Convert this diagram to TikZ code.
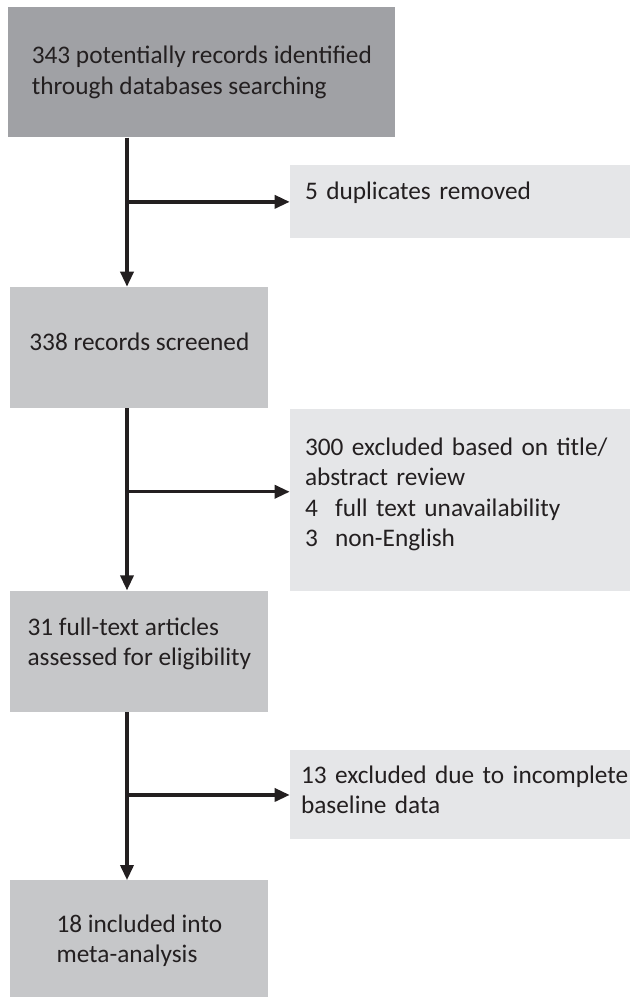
\documentclass[tikz,border=0pt]{standalone}
\usepackage{fontspec}
\setmainfont{Carlito}
\usepackage{tikz}
\usetikzlibrary{arrows.meta,positioning,calc}

\definecolor{boxdark}{RGB}{160,161,165}
\definecolor{boxmid}{RGB}{198,199,201}
\definecolor{boxlight}{RGB}{229,230,232}
\definecolor{inkdark}{RGB}{35,31,32}

% deep strut on a last line: lifts the text in its box
\newcommand{\lowstrut}[1]{\rule[-#1]{0pt}{#1}}

\begin{document}
\begin{tikzpicture}[
    %–––– GLOBAL STYLE TWEAKS ––––
    font=\fontsize{14.4pt}{17.3pt}\selectfont,      % Calibri-like text
    text=inkdark,
    >=Latex,
    mainbox/.style = {rectangle, fill=boxmid, align=left,
                      minimum width=5.16cm,          % left column boxes
                      minimum height=2.42cm,
                      inner sep=0pt},
    sidebox/.style = {rectangle, fill=boxlight, align=left,
                      text width=6.7cm,              % cut off by the page edge
                      inner xsep=0.3cm, inner ysep=0pt},
    lift/.style    = {text depth=#1},                % text a bit above centre
    arrow/.style = {-{Triangle[length=0.3cm,width=0.26cm]},
                    draw=inkdark, line width=1.9pt},
]
\useasboundingbox (0,0) rectangle (12.58,-19.94);

%–––– MAIN FLOW ––––
\node (records)    [mainbox, fill=boxdark, minimum width=7.74cm, minimum height=2.6cm,
                    anchor=north west] at (0.16,-0.14)
                   {343 potentially records identified\\through databases searching};

\node (screened)   [mainbox, lift=0.22cm, below=2.98cm of records.south west,
                    anchor=north west, xshift=0.04cm] {338 records screened};

\node (fulltext)   [mainbox, lift=0.38cm, below=3.64cm of screened.south west,
                    anchor=north west] {31 full-text articles\\assessed for eligibility};

\node (included)   [mainbox, below=3.36cm of fulltext.south west, anchor=north west]
                   {18 included into\\meta-analysis};

%–––– EXCLUSIONS ––––
\node (dup)        [sidebox, minimum height=1.46cm,
                    above right=0.96cm and 0.42cm of screened.north east]
                   {5 duplicates removed\lowstrut{0.44cm}};

\node (excluded)   [sidebox, minimum height=3.64cm,
                    below right=0cm and 0.42cm of screened.south east]
                   {300 excluded based on title/\\abstract review\\
                    \makebox[0.6cm][l]{4}full text unavailability\\
                    \makebox[0.6cm][l]{3}non-English\lowstrut{0.3cm}};

\node (incomplete) [sidebox, inner xsep=0.22cm, minimum height=1.78cm,
                    below right=0.76cm and 0.42cm of fulltext.south east]
                   {13 excluded due to incomplete\\baseline data\lowstrut{0.2cm}};

%–––– ARROWS ––––
\coordinate (spine) at (2.54,0);
\coordinate (dup in) at (dup.west);
\coordinate (excluded in) at ([yshift=0.16cm]excluded.west);
\coordinate (incomplete in) at (incomplete.west);

\foreach \a/\b in {records/screened, screened/fulltext, fulltext/included}
  \draw[arrow] (\a.south -| spine) -- (\b.north -| spine);

\foreach \b in {dup in, excluded in, incomplete in}
  \draw[arrow] (spine |- \b) -- (\b);
\end{tikzpicture}
\end{document}
